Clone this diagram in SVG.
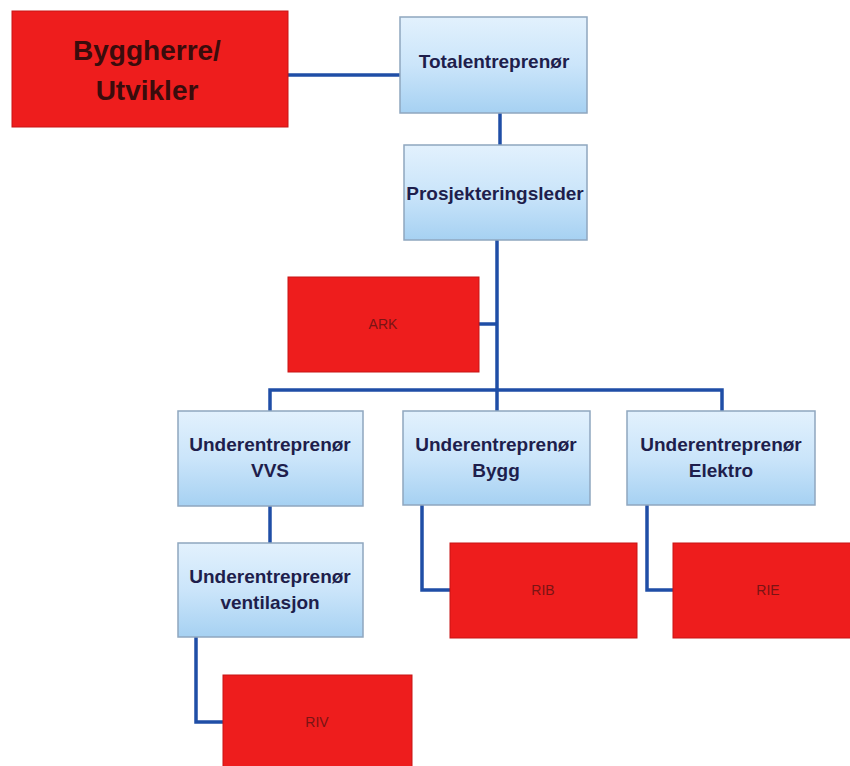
<svg xmlns="http://www.w3.org/2000/svg" width="850" height="766" viewBox="0 0 850 766">
<defs>
<linearGradient id="blueGrad" x1="0" y1="0" x2="0" y2="1">
<stop offset="0" stop-color="#e2f1fd"/>
<stop offset="0.5" stop-color="#cbe5fa"/>
<stop offset="1" stop-color="#a6d1f2"/>
</linearGradient>
<style>
.blue{fill:url(#blueGrad);stroke:#8fa6bf;stroke-width:1.5}
.red{fill:#ee1d1d;stroke:#c81414;stroke-width:1}
.bt{font-family:"Liberation Sans",Arial,sans-serif;font-weight:bold;font-size:19px;fill:#1e1e4c;text-anchor:middle}
.rt{font-family:"Liberation Sans",Arial,sans-serif;font-size:14px;fill:#7a1414;text-anchor:middle}
.big{font-family:"Liberation Sans",Arial,sans-serif;font-weight:bold;font-size:28px;fill:#3a0c0c;text-anchor:middle}
.conn{fill:none;stroke:#1f4ea6;stroke-width:3.5}
</style>
</defs>
<rect width="850" height="766" fill="#ffffff"/>
<g id="connectors">
<line class="conn" x1="288" y1="75" x2="400" y2="75"/>
<line class="conn" x1="500" y1="113" x2="500" y2="145"/>
<line class="conn" x1="497" y1="240" x2="497" y2="411"/>
<line class="conn" x1="479" y1="324" x2="497" y2="324"/>
<polyline class="conn" points="270,411 270,390 722,390 722,411"/>
<line class="conn" x1="270" y1="506" x2="270" y2="543"/>
<polyline class="conn" points="422,505 422,590 450,590"/>
<polyline class="conn" points="647,505 647,590 673,590"/>
<polyline class="conn" points="196,637 196,722 223,722"/>
</g>
<g id="byggherre">
<rect class="red" x="12" y="11" width="276" height="116"/>
<text class="big" x="147" y="60">Byggherre/</text>
<text class="big" x="147" y="100">Utvikler</text>
</g>
<g id="totalentreprenor">
<rect class="blue" x="400" y="17" width="187" height="96"/>
<text class="bt" x="494" y="68">Totalentreprenør</text>
</g>
<g id="prosjekteringsleder">
<rect class="blue" x="404" y="145" width="183" height="95"/>
<text class="bt" x="495" y="200">Prosjekteringsleder</text>
</g>
<g id="ark">
<rect class="red" x="288" y="277" width="191" height="95"/>
<text class="rt" x="383" y="329">ARK</text>
</g>
<g id="ue-vvs">
<rect class="blue" x="178" y="411" width="185" height="95"/>
<text class="bt" x="270" y="451">Underentreprenør</text>
<text class="bt" x="270" y="477">VVS</text>
</g>
<g id="ue-bygg">
<rect class="blue" x="403" y="411" width="187" height="94"/>
<text class="bt" x="496" y="451">Underentreprenør</text>
<text class="bt" x="496" y="477">Bygg</text>
</g>
<g id="ue-elektro">
<rect class="blue" x="627" y="411" width="188" height="94"/>
<text class="bt" x="721" y="451">Underentreprenør</text>
<text class="bt" x="721" y="477">Elektro</text>
</g>
<g id="ue-ventilasjon">
<rect class="blue" x="178" y="543" width="185" height="94"/>
<text class="bt" x="270" y="583">Underentreprenør</text>
<text class="bt" x="270" y="609">ventilasjon</text>
</g>
<g id="rib">
<rect class="red" x="450" y="543" width="187" height="95"/>
<text class="rt" x="543" y="595">RIB</text>
</g>
<g id="rie">
<rect class="red" x="673" y="543" width="190" height="95"/>
<text class="rt" x="768" y="595">RIE</text>
</g>
<g id="riv">
<rect class="red" x="223" y="675" width="189" height="95"/>
<text class="rt" x="317" y="727">RIV</text>
</g>
</svg>
